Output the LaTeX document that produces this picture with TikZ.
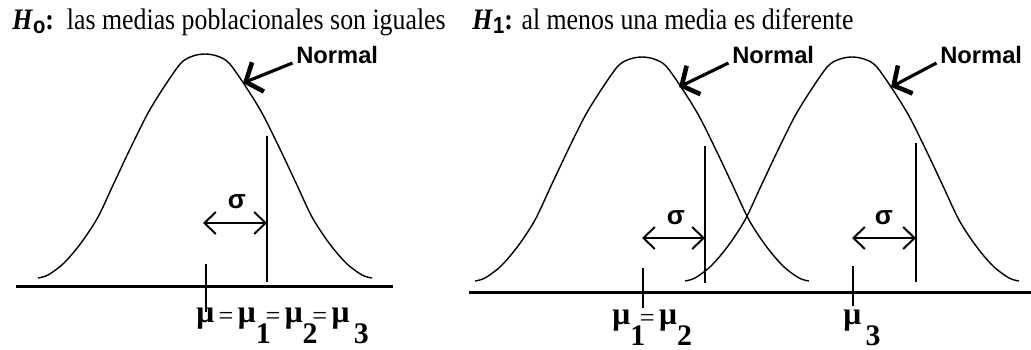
\documentclass[tikz,border=0pt]{standalone}
\usepackage{fontspec}
\usepackage{graphicx}
\setmainfont{Liberation Serif}
\newfontfamily\labelfont{Liberation Sans}
\usetikzlibrary{arrows.meta,positioning,calc}
\newcommand{\mymu}{{\fontsize{18}{20}\selectfont\bfseries μ}}
\newcommand{\mueq}{\raisebox{-0.1em}{=}}
\newcommand{\musub}[1]{\raisebox{-0.8em}{\fontsize{17}{19}\selectfont\bfseries #1}}
\newcommand{\hsub}[1]{\raisebox{-0.35ex}{\labelfont\bfseries\fontsize{11.5}{12}\selectfont #1}}
\newcommand{\tallline}[1]{\scalebox{1}[1.15]{#1}}

\begin{document}
\begin{tikzpicture}[
  x=0.02cm,y=-0.02cm,
  curve/.style={line width=0.8pt},
  axisline/.style={line width=1.7pt},
  meanmark/.style={line width=1.1pt},
  sdmark/.style={line width=1.1pt},
  sdarrow/.style={{Straight Barb[length=6.5pt,width=12.5pt]}-{Straight Barb[length=6.5pt,width=12.5pt]},line width=1.1pt},
  pointer/.style={-{Straight Barb[length=7.5pt,width=18pt,line width=2.6pt]},line width=1.8pt},
  normlabel/.style={font=\labelfont\bfseries\fontsize{13.5}{15}\selectfont,inner sep=0pt,anchor=base west},
  sdlabel/.style={font=\labelfont\bfseries\fontsize{15}{16}\selectfont,inner sep=0pt},
  mulabel/.style={font=\fontsize{15}{18}\selectfont,inner sep=0pt,anchor=base west},
  hyplabel/.style={font=\fontsize{14.7}{17}\selectfont,inner sep=0pt,anchor=base west},
  bell/.pic={\draw[curve] plot[smooth] coordinates {(-167,-8) (-157,-11) (-141,-23) (-124,-43) (-107,-69) (-91,-103) (-74,-139) (-57,-173) (-41,-199) (-24,-223) (-12,-230) (0,-232) (12,-230) (24,-223) (41,-199) (57,-173) (74,-139) (91,-103) (107,-69) (124,-43) (141,-23) (157,-11) (167,-8)};}
]
\useasboundingbox (0,0) rectangle (1031,349);

% H0: one population
\node[hyplabel] (h0) at (12,29) {\tallline{\textbf{\textit{H}}\hsub{o}\textbf{:}\hspace{0.5em}las medias poblacionales son iguales}};
\draw[axisline] (16,286) -- (393,286);
\pic at (205,286) {bell};
\draw[meanmark] (206,264) -- (206,312);
\draw[sdmark] (267,136) -- (267,282);
\coordinate (sd0a) at (203,223);
\coordinate (sd0b) at (267,223);
\draw[sdarrow] (sd0a) -- (sd0b);
\node[sdlabel] (sig0) at (237,202) {σ};
\node[normlabel] (nrm0) at (296,63) {Normal};
\coordinate (tip0) at (243,83);
\draw[pointer] ([xshift=-2pt]nrm0.base west) -- (tip0);
\node[mulabel] (mulab0) at (196,322) {\mymu\,\mueq\,\mymu\musub{1}\kern-3pt\mueq\,\mymu\musub{2}\kern-3pt\mueq\,\mymu\,\musub{3}};

% H1: two populations
\node[hyplabel] (h1) at (472,29) {\tallline{\textbf{\textit{H}}\hsub{1}\textbf{:} al menos una media es diferente}};
\draw[axisline] (469,292) -- (1031,292);
\pic at (642,289) {bell};
\pic at (852,289) {bell};
\draw[meanmark] (643,268) -- (643,308);
\draw[meanmark] (853,266) -- (853,306);
\draw[sdmark] (705,146) -- (705,283);
\draw[sdmark] (916,143) -- (916,282);
\coordinate (sd1a) at (642,238);
\coordinate (sd1b) at (705,238);
\coordinate (sd2a) at (852,238);
\coordinate (sd2b) at (916,238);
\draw[sdarrow] (sd1a) -- (sd1b);
\draw[sdarrow] (sd2a) -- (sd2b);
\node[sdlabel] (sig1) at (676,218) {σ};
\node[sdlabel] (sig2) at (884,218) {σ};
\node[normlabel] (nrm1) at (732,63) {Normal};
\node[normlabel] (nrm2) at (940,63) {Normal};
\coordinate (tip1) at (679,87);
\coordinate (tip2) at (891,87);
\draw[pointer] ([xshift=-2pt]nrm1.base west) -- (tip1);
\draw[pointer] ([xshift=-2pt]nrm2.base west) -- (tip2);
\node[mulabel] (mulab1) at (612,324) {\mymu\musub{1}\kern-3pt\mueq\,\mymu\musub{2}};
\node[mulabel] (mulab2) at (843,324) {\mymu\,\musub{3}};
\end{tikzpicture}
\end{document}
